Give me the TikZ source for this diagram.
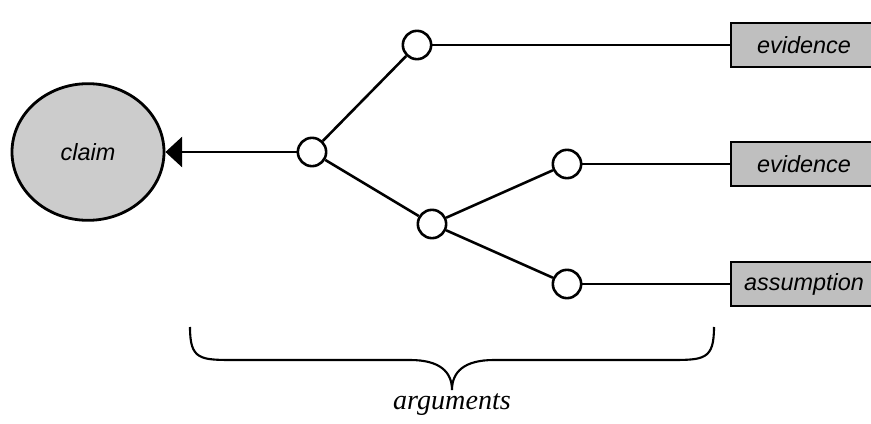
\documentclass[tikz,border=0pt]{standalone}
\usepackage{fontspec}
\setmainfont{Liberation Serif}
\setsansfont{Liberation Sans}
\usetikzlibrary{arrows.meta, shapes.geometric}

\begin{document}
\begin{tikzpicture}[x=0.3mm, y=-0.3mm, line width=2.2pt,
    every node/.style={font=\sffamily\itshape\fontsize{20}{22}\selectfont, align=center},
    claimnode/.style={ellipse, draw, line width=2.4pt, fill=black!20, minimum width=45.6mm, minimum height=41mm, inner sep=0pt},
    dot/.style={circle, draw, fill=white, minimum size=8.5mm, inner sep=0pt},
    leaf/.style={rectangle, draw, line width=2.4pt, fill=black!25, minimum width=43.8mm, minimum height=13.2mm, inner sep=0pt}]
		\clip (0,0) rectangle (871,424);
		\node[claimnode] (claim) at (88,152) {claim};
		\node[dot] (a0) at (312,152) {};
		\node[dot] (a1) at (417,45) {};
		\node[dot] (a2) at (432,224) {};
		\node[dot] (a3) at (567,164) {};
		\node[dot] (a4) at (567,284) {};
		\node[leaf] (ev1) at (804,45) {evidence};
		\node[leaf] (ev2) at (804,164) {evidence};
		\node[leaf] (asm) at (804,284) {assumption};
		\draw[-{Triangle[length=5mm, width=9mm]}] (a0) -- (claim);
		\draw (a0) -- (a1);
		\draw (a0) -- (a2);
		\draw (a2) -- (a3);
		\draw (a2) -- (a4);
		\draw (a1) -- (ev1);
		\draw (a3) -- (ev2);
		\draw (a4) -- (asm);
		\draw[line width=1.8pt] (190,327) .. controls (190,360) and (200,360) .. (235,360) -- (410,360) .. controls (440,360) and (452,372) .. (452,390) .. controls (452,372) and (464,360) .. (494,360) -- (669,360) .. controls (704,360) and (714,360) .. (714,327);
		\node[font=\rmfamily\itshape\fontsize{24}{26}\selectfont] (args) at (452,405) {arguments};
	\end{tikzpicture}
\end{document}
